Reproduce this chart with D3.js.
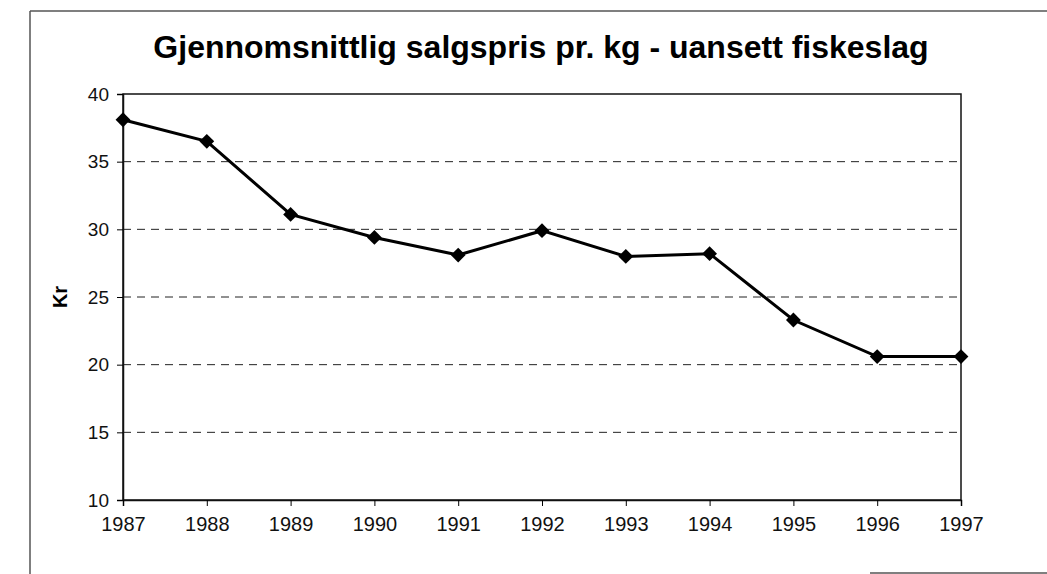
<!DOCTYPE html>
<html>
<head>
<meta charset="utf-8">
<script src="https://cdn.jsdelivr.net/npm/d3@7"></script>
<style>
    body { margin: 0; background: #fff; }
    svg { display: block; font-family: "Liberation Sans", Arial, sans-serif; }
</style>
</head>
<body>
<div id="chart"></div>
<script>
// data
const years = [1987, 1988, 1989, 1990, 1991, 1992, 1993, 1994, 1995, 1996, 1997];
const prices = [38.1, 36.5, 31.1, 29.4, 28.1, 29.9, 28.0, 28.2, 23.3, 20.6, 20.6];
const yTicks = [10, 15, 20, 25, 30, 35, 40];

const width = 1047, height = 574;
const margin = {top: 94, right: 86, bottom: 74, left: 123};

const svg = d3.select("#chart").append("svg")
    .attr("width", width)
    .attr("height", height);

// page frame (scan edges)
svg.append("line").attr("x1", 30).attr("x2", 1047).attr("y1", 11).attr("y2", 11)
    .attr("stroke", "#555").attr("stroke-width", 1.5);
svg.append("line").attr("x1", 30).attr("x2", 30).attr("y1", 11).attr("y2", 574)
    .attr("stroke", "#555").attr("stroke-width", 1.5);
svg.append("line").attr("x1", 870).attr("x2", 1047).attr("y1", 573).attr("y2", 573)
    .attr("stroke", "#555").attr("stroke-width", 1.5);

const x = d3.scalePoint()
    .domain(years)
    .range([margin.left, width - margin.right]);

const y = d3.scaleLinear()
    .domain([10, 40])
    .range([height - margin.bottom, margin.top]);

// dashed gridlines
svg.append("g")
    .selectAll("line")
    .data(yTicks.filter(d => d > 10 && d < 40))
    .enter()
    .append("line")
    .attr("x1", margin.left)
    .attr("x2", width - margin.right)
    .attr("y1", d => y(d))
    .attr("y2", d => y(d))
    .attr("stroke", "#222")
    .attr("stroke-width", 1)
    .attr("stroke-dasharray", "8,6");

// plot frame
svg.append("rect")
    .attr("x", margin.left)
    .attr("y", margin.top)
    .attr("width", width - margin.left - margin.right)
    .attr("height", height - margin.bottom - margin.top)
    .attr("fill", "none")
    .attr("stroke", "#111")
    .attr("stroke-width", 1.5);

// y axis
const yAxis = svg.append("g")
    .attr("transform", "translate(" + margin.left + ",0)")
    .call(d3.axisLeft(y).tickValues(yTicks).tickSize(6).tickPadding(8));
yAxis.select(".domain").attr("stroke", "#111").attr("stroke-width", 1.5);
yAxis.selectAll("text").style("font-size", "19px").attr("fill", "#111");

// x axis
const xAxis = svg.append("g")
    .attr("transform", "translate(0," + (height - margin.bottom) + ")")
    .call(d3.axisBottom(x).tickSize(6).tickPadding(11).tickFormat(d3.format("d")));
xAxis.select(".domain").attr("stroke", "#111").attr("stroke-width", 1.5);
xAxis.selectAll("text").style("font-size", "20px").attr("fill", "#111");

// line
const line = d3.line()
    .x((d, i) => x(years[i]))
    .y(d => y(d));

svg.append("path")
    .datum(prices)
    .attr("d", line)
    .attr("fill", "none")
    .attr("stroke", "#000")
    .attr("stroke-width", 3);

// diamond markers (rotated squares)
svg.append("g")
    .selectAll("path")
    .data(prices)
    .enter()
    .append("path")
    .attr("transform", (d, i) => "translate(" + x(years[i]) + "," + y(d) + ") rotate(45)")
    .attr("d", d3.symbol().type(d3.symbolSquare).size(110))
    .attr("fill", "#000");

// title
svg.append("text")
    .attr("x", 541)
    .attr("y", 58)
    .attr("text-anchor", "middle")
    .style("font-size", "32px")
    .attr("font-weight", "bold")
    .attr("fill", "#000")
    .text("Gjennomsnittlig salgspris pr. kg - uansett fiskeslag");

// y label
svg.append("text")
    .attr("transform", "translate(67," + y(25) + ") rotate(-90)")
    .attr("text-anchor", "middle")
    .style("font-size", "20px")
    .attr("font-weight", "bold")
    .attr("fill", "#000")
    .text("Kr");
</script>
</body>
</html>
